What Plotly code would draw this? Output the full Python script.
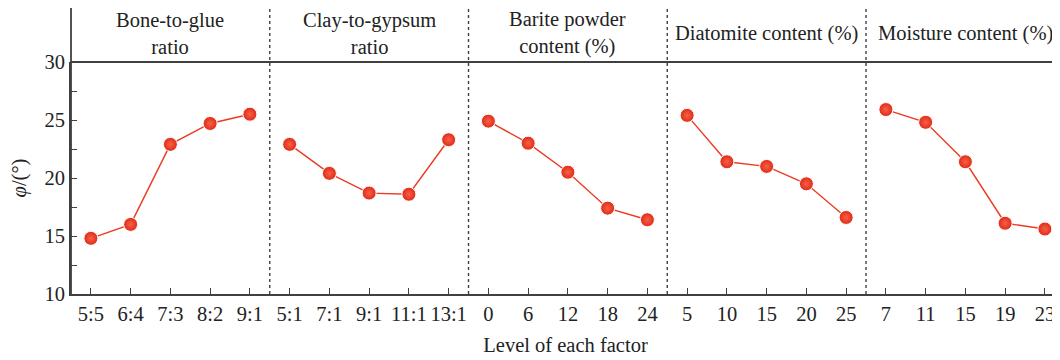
import plotly.graph_objects as go

factors = ["Bone-to-glue<br>ratio", "Clay-to-gypsum<br>ratio", "Barite powder<br>content (%)",
           "Diatomite content (%)", "Moisture content (%)"]
levels = [
    ["5:5", "6:4", "7:3", "8:2", "9:1"],
    ["5:1", "7:1", "9:1", "11:1", "13:1"],
    ["0", "6", "12", "18", "24"],
    ["5", "10", "15", "20", "25"],
    ["7", "11", "15", "19", "23"],
]
phi = [
    [14.8, 16.0, 22.9, 24.7, 25.5],
    [22.9, 20.4, 18.7, 18.6, 23.3],
    [24.9, 23.0, 20.5, 17.4, 16.4],
    [25.4, 21.4, 21.0, 19.5, 16.6],
    [25.9, 24.8, 21.4, 16.1, 15.6],
]

FONT = "Liberation Serif, DejaVu Serif, Times New Roman, serif"
AX = "#404040"
RED = "#EC3A22"
TXT = "#222222"
FS = 20.5

fig = go.Figure()
tickvals, ticktext = [], []
pos = 0
for g, (labs, vals) in enumerate(zip(levels, phi)):
    xs = list(range(pos, pos + len(labs)))
    tickvals += xs
    ticktext += labs
    fig.add_trace(go.Scatter(
        x=xs, y=vals, mode="lines+markers",
        line=dict(color=RED, width=1.4),
        marker=dict(size=14, color="#E02A14",
                    gradient=dict(type="radial", color="#F5604A"),
                    line=dict(color="white", width=1.0)),
        showlegend=False, hoverinfo="x+y"))
    pos += len(labs)

group_sizes = [len(l) for l in levels]

shapes = []
annotations = []
HDR = 1.25
start = 0
for g, size in enumerate(group_sizes):
    center = start + (size - 1) / 2
    annotations.append(dict(x=center, y=(1 + HDR) / 2, xref="x", yref="paper",
                            text=factors[g], showarrow=False,
                            font=dict(family=FONT, size=FS, color=TXT),
                            xanchor="center", yanchor="middle", align="center"))
    if g > 0:
        shapes.append(dict(type="line", xref="x", yref="paper", x0=start - 0.5, x1=start - 0.5,
                           y0=0, y1=HDR, line=dict(color=AX, width=1.4, dash="dot")))
    start += size

shapes.append(dict(type="line", xref="paper", yref="paper", x0=0, x1=1, y0=HDR, y1=HDR,
                   line=dict(color=AX, width=1.8)))
shapes.append(dict(type="line", xref="paper", yref="paper", x0=0, x1=1, y0=1, y1=1,
                   line=dict(color=AX, width=1.8)))
shapes.append(dict(type="line", xref="paper", yref="paper", x0=0, x1=0, y0=0, y1=HDR,
                   line=dict(color=AX, width=1.8)))

fig.update_layout(
    width=1052, height=352,
    margin=dict(l=63, r=0, t=54, b=66),
    plot_bgcolor="white", paper_bgcolor="white",
    font=dict(family=FONT, size=FS, color=TXT),
    shapes=shapes, annotations=annotations,
    xaxis=dict(range=[-0.5, 24.38], tickmode="array", tickvals=tickvals, ticktext=ticktext,
               ticks="inside", ticklen=6, tickwidth=1.3, tickcolor=AX,
               showline=True, linecolor=AX, linewidth=1.8, showgrid=False, zeroline=False,
               tickfont=dict(family=FONT, size=FS, color=TXT),
               title=dict(text="Level of each factor", font=dict(family=FONT, size=FS, color=TXT),
                          standoff=14)),
    yaxis=dict(range=[10, 30], tickmode="array", tickvals=[10, 15, 20, 25, 30],
               ticks="inside", ticklen=6, tickwidth=1.3, tickcolor=AX,
               minor=dict(tickmode="array", tickvals=[12.5, 17.5, 22.5, 27.5], ticks="inside",
                          ticklen=6, tickwidth=1.3, tickcolor=AX),
               showline=True, linecolor=AX, linewidth=1.8, showgrid=False, zeroline=False,
               tickfont=dict(family=FONT, size=FS, color=TXT),
               title=dict(text="<i>φ</i>/(°)", font=dict(family=FONT, size=FS, color=TXT),
                          standoff=13)),
)

fig.write_html("out.html")
